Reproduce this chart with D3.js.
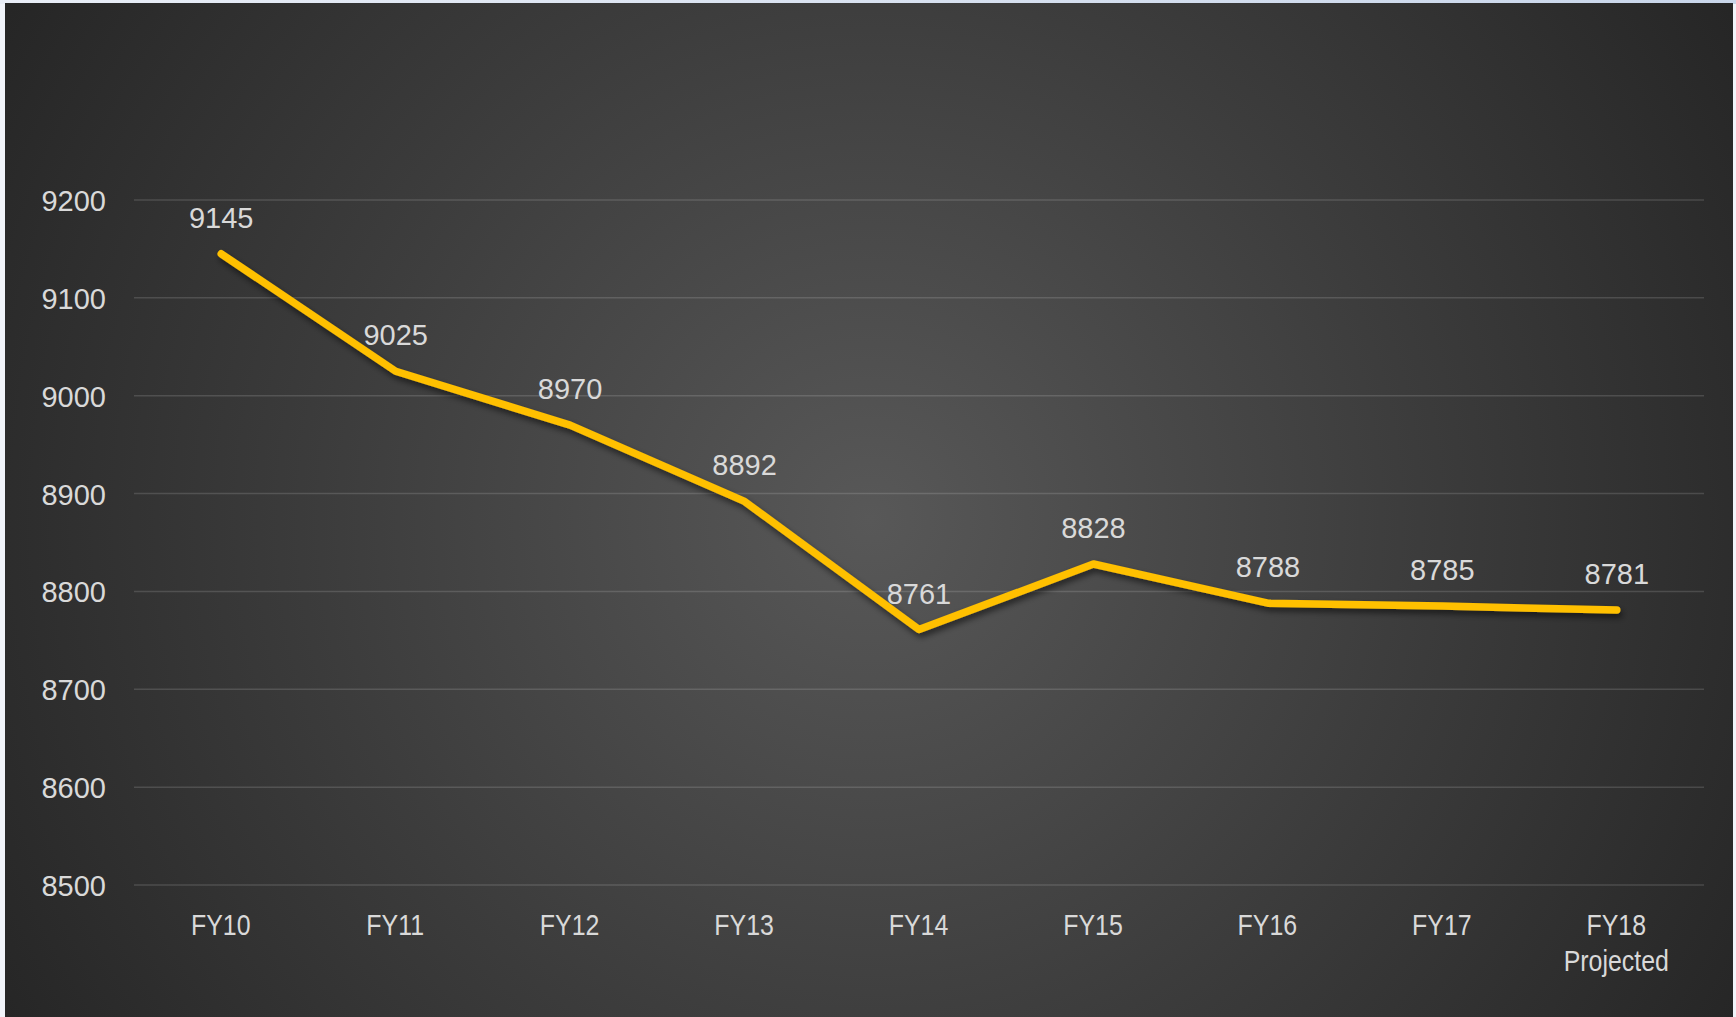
<!DOCTYPE html>
<html><head><meta charset="utf-8">
<script src="https://cdn.jsdelivr.net/npm/d3@7"></script>
<style>
html,body{margin:0;padding:0;background:#eef2f9;overflow:hidden;}
svg{display:block;}
</style></head>
<body>
<svg id="chart" width="1736" height="1017"></svg>
<script>
const categories = ["FY10","FY11","FY12","FY13","FY14","FY15","FY16","FY17","FY18\nProjected"];
const values = [9145,9025,8970,8892,8761,8828,8788,8785,8781];
const yTicks = [8500,8600,8700,8800,8900,9000,9100,9200];

const svg = d3.select("#chart");
const W = 1736, H = 1017;
const defs = svg.append("defs");

const topGrad = defs.append("linearGradient").attr("id","topg").attr("x1",0).attr("x2",1).attr("y1",0).attr("y2",0);
topGrad.append("stop").attr("offset",0).attr("stop-color","#e9eef7");
topGrad.append("stop").attr("offset",1).attr("stop-color","#c9d6ea");
svg.append("rect").attr("x",0).attr("y",0).attr("width",W).attr("height",H).attr("fill","#f1f4fa");
svg.append("rect").attr("x",0).attr("y",0).attr("width",W).attr("height",4).attr("fill","url(#topg)");

const rg = defs.append("radialGradient").attr("id","bg").attr("gradientUnits","userSpaceOnUse")
  .attr("cx",870).attr("cy",520).attr("r",1000);
rg.append("stop").attr("offset",0).attr("stop-color","#585858");
rg.append("stop").attr("offset",0.55).attr("stop-color","#3c3c3c");
rg.append("stop").attr("offset",1).attr("stop-color","#262626");

svg.append("rect").attr("x",5).attr("y",3).attr("width",1728).attr("height",H-3).attr("fill","url(#bg)");

const f = defs.append("filter").attr("id","shadow").attr("x","-10%").attr("y","-10%").attr("width","120%").attr("height","130%");
f.append("feDropShadow").attr("dx",2).attr("dy",4).attr("stdDeviation",3).attr("flood-color","#000").attr("flood-opacity",0.55);

const x = d3.scalePoint().domain(categories).range([134,1704]).padding(0.5);
const y = d3.scaleLinear().domain([8500,9200]).range([885,200]);

// gridlines
svg.append("g").selectAll("line").data(yTicks).join("line")
  .attr("x1",134).attr("x2",1704)
  .attr("y1",d=>y(d)).attr("y2",d=>y(d))
  .attr("stroke","rgba(255,255,255,0.14)").attr("stroke-width",1.5);

// y axis
const yAxis = d3.axisLeft(y).tickValues(yTicks).tickSize(0).tickPadding(0).tickFormat(d3.format("d"));
const yg = svg.append("g").attr("transform","translate(106,0)").call(yAxis);
yg.select(".domain").remove();
yg.selectAll("text").attr("fill","#d9d9d9").attr("font-family","'Liberation Sans', Arial, sans-serif")
  .attr("font-size",29).attr("dy","0.36em");

// x axis
const xAxis = d3.axisBottom(x).tickSize(0).tickPadding(0).tickFormat(()=> "");
const xg = svg.append("g").attr("transform","translate(-1,885)").call(xAxis);
xg.select(".domain").remove();
xg.selectAll(".tick").each(function(d){
  const t = d3.select(this).select("text").text(null)
    .attr("fill","#d9d9d9").attr("font-family","'Liberation Sans Narrow', 'Liberation Sans', sans-serif")
    .attr("font-size",29).attr("y",0).attr("dy",null)
    .attr("transform","scale(0.86,1)");
  d.split("\n").forEach((s,i)=>{
    t.append("tspan").attr("x",0).attr("y",50+i*36).text(s);
  });
});

// line
const data = categories.map((c,i)=>({c, v: values[i]}));
const line = d3.line().x(d=>x(d.c)).y(d=>y(d.v));
svg.append("path").datum(data).attr("d",line)
  .attr("fill","none").attr("stroke","#FFC000").attr("stroke-width",7.5)
  .attr("stroke-linecap","round").attr("stroke-linejoin","round")
  .attr("filter","url(#shadow)");

// data labels
svg.append("g").selectAll("text").data(data).join("text")
  .attr("x",d=>x(d.c)).attr("y",d=>y(d.v)-26)
  .attr("text-anchor","middle")
  .attr("fill","#d9d9d9").attr("font-family","'Liberation Sans', Arial, sans-serif")
  .attr("font-size",29)
  .text(d=>d.v);
</script>
</body></html>
